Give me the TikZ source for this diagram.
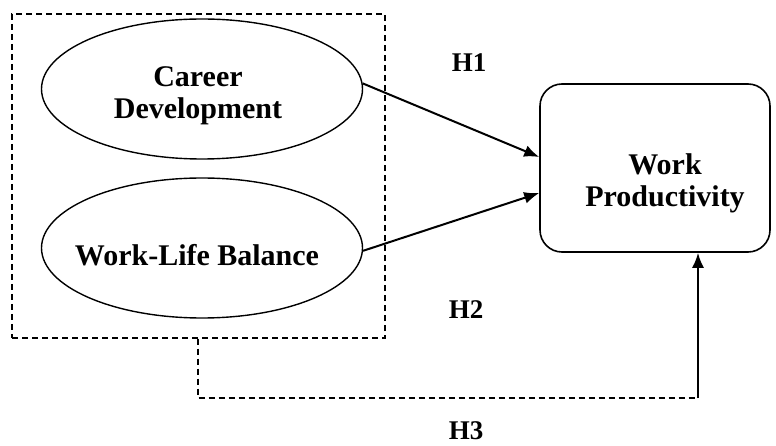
\documentclass[tikz,border=0pt]{standalone}
\usepackage{fontspec}
\setmainfont{Liberation Serif}
\usetikzlibrary{positioning,arrows.meta,shapes.geometric}
\tikzset{
  construct/.style={ellipse, draw, line width=1.4pt, minimum width=321pt, minimum height=140pt, inner sep=0pt},
  outcome/.style={rectangle, rounded corners=22pt, draw, line width=1.6pt, minimum width=230pt, minimum height=168pt},
  label text/.style={align=center, inner sep=0pt, font=\fontsize{30}{32}\selectfont\bfseries},
  grouping/.style={draw, line width=1.3pt, dash pattern=on 6pt off 4pt, minimum width=373pt, minimum height=324pt},
  hyp/.style={inner sep=1pt, font=\fontsize{27}{30}\selectfont\bfseries},
  effect/.style={-{Latex[length=15pt,width=12pt]}, line width=2pt},
  dashlink/.style={line width=1.3pt, dash pattern=on 6pt off 4pt},
}
\begin{document}
\begin{tikzpicture}[x=1pt,y=-1pt]
\useasboundingbox (0,0) rectangle (776,446);
%Nodes
\node[grouping] (grp) at (198.5,176) {};
\node[construct] (cd) at (202,89) {};
\node[label text] (cdtext) at (198,96) {Career\\Development};
\node[construct] (wlb) at (202,248) {};
\node[label text] (wlbtext) at (197,255) {Work-Life Balance};
\node[outcome] (wp) at (655,168) {};
\node[label text] (wptext) at (665,183) {Work\\Productivity};
\node[hyp] (h1) at (469,63) {H1};
\node[hyp] (h2) at (466,310) {H2};
\node[hyp] (h3) at (466,431) {H3};
\coordinate (bend) at (198,398);
\coordinate (corner) at (698,398);

%Lines
\draw[effect] (cd.2) -- ([yshift=11pt]wp.west);
\draw[effect] (wlb.-1) -- ([yshift=-25pt]wp.west);
\draw[dashlink] (grp.south -| bend) -- (bend) -- (corner);
\draw[effect] (corner) -- (corner |- wp.south);
\end{tikzpicture}
\end{document}
